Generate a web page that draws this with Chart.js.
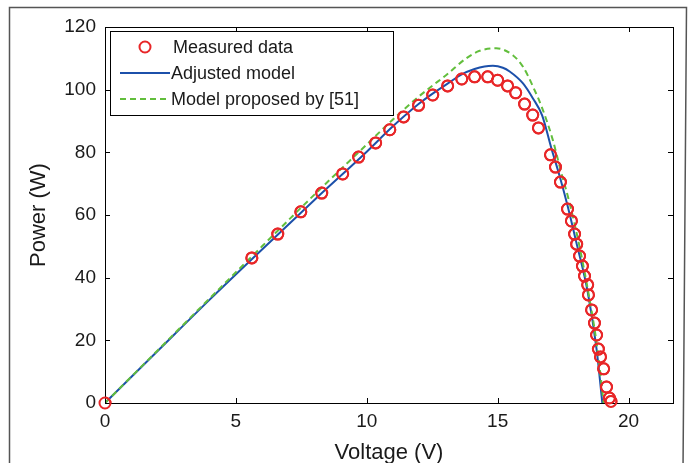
<!DOCTYPE html>
<html>
<head>
<meta charset="utf-8">
<script src="https://cdn.jsdelivr.net/npm/chart.js@4.4.1/dist/chart.umd.min.js"></script>
<style>
  html, body { margin: 0; padding: 0; background: #fff; }
  #wrap { width: 692px; height: 463px; }
</style>
</head>
<body>
<div id="wrap"><canvas id="c" width="692" height="463"></canvas></div>
<script>
// Measured PV points [voltage, power]
const measuredV = [0, 5.61, 6.6, 7.48, 8.28, 9.08, 9.69, 10.34, 10.88, 11.41, 11.98, 12.52, 13.09, 13.63, 14.12, 14.62, 15.0, 15.38, 15.69, 16.03, 16.34, 16.56, 17.02, 17.21, 17.4, 17.67, 17.82, 17.94, 18.02, 18.13, 18.24, 18.32, 18.44, 18.47, 18.59, 18.7, 18.78, 18.85, 18.93, 19.05, 19.16, 19.27, 19.33];
const measuredP = [0, 46.3, 53.9, 61, 67, 73.1, 78.5, 83, 87.2, 91.3, 95, 98.3, 101.2, 103.4, 104.1, 104.1, 103.0, 101.2, 99, 95.4, 91.9, 87.8, 79.2, 75.3, 70.5, 61.9, 58.1, 53.9, 50.7, 46.9, 43.7, 40.5, 37.7, 34.5, 29.7, 25.5, 21.7, 17.2, 14.7, 10.9, 5.1, 1.6, 0.5];

// Adjusted model
const adjustedV = [0, 2, 4, 6, 8, 10, 11, 11.98, 12.53, 13.1, 13.63, 14.12, 14.5, 14.82, 15.2, 15.46, 15.97, 16.35, 16.7, 17.05, 17.4, 17.67, 18, 18.44, 18.78, 19.0];
const adjustedP = [0, 16.5, 33, 49, 64.8, 80.2, 88.3, 95.4, 98.8, 102, 104.9, 106.6, 107.4, 107.6, 107, 105.8, 102, 97.2, 91.8, 81.4, 71.5, 63, 51.5, 35.5, 17.2, 0];

// Model proposed by [51]
const refV = [0, 2, 4, 6, 8, 10, 11, 11.9, 12.47, 13.04, 13.8, 14.31, 14.95, 15.58, 15.97, 16.35, 16.73, 17.11, 17.4, 17.75, 18.13, 18.45, 18.8, 19.05];
const refP = [0, 16.7, 33.4, 50, 66.5, 82.5, 90.5, 97.2, 101, 104.7, 110, 112.4, 113.2, 111, 107.3, 101, 93.5, 83.9, 74.5, 63.8, 49.9, 36, 18, 0];

const xTicks = [0, 5, 10, 15, 20];
const yTicks = [0, 20, 40, 60, 80, 100, 120];

const toPts = (xs, ys) => xs.map((x, i) => ({ x: x, y: ys[i] }));
const FONT = '"Liberation Sans", Arial, Helvetica, sans-serif';

// frame, inward ticks, box and legend drawn like the matlab figure
const matlabLook = {
  id: 'matlabLook',
  beforeDraw(chart) {
    const ctx = chart.ctx;
    ctx.save();
    ctx.strokeStyle = '#555';
    ctx.lineWidth = 1.5;
    ctx.beginPath();
    ctx.moveTo(9.5, 470);
    ctx.lineTo(9.5, 7.5);
    ctx.lineTo(686.5, 7.5);
    ctx.lineTo(683, 470);
    ctx.stroke();
    ctx.restore();
  },
  afterDatasetsDraw(chart) {
    const ctx = chart.ctx;
    const a = chart.chartArea;
    const xs = chart.scales.x, ys = chart.scales.y;
    ctx.save();
    ctx.strokeStyle = '#000';
    ctx.lineWidth = 1;
    ctx.strokeRect(a.left + 0.5, a.top + 0.5, a.right - a.left, a.bottom - a.top);
    ctx.beginPath();
    xTicks.forEach(v => {
      const px = Math.round(xs.getPixelForValue(v)) + 0.5;
      ctx.moveTo(px, a.bottom); ctx.lineTo(px, a.bottom - 5);
      ctx.moveTo(px, a.top); ctx.lineTo(px, a.top + 5);
    });
    yTicks.forEach(v => {
      const py = Math.round(ys.getPixelForValue(v)) + 0.5;
      ctx.moveTo(a.left, py); ctx.lineTo(a.left + 5, py);
      ctx.moveTo(a.right, py); ctx.lineTo(a.right - 5, py);
    });
    ctx.stroke();

    // redraw measured circles on top of the box (matlab does not clip them)
    const meta = chart.getDatasetMeta(0);
    const ds0 = chart.data.datasets[0];
    ctx.strokeStyle = ds0.borderColor;
    ctx.lineWidth = 2;
    meta.data.forEach(p => {
      ctx.beginPath();
      ctx.arc(p.x, p.y, 5.5, 0, Math.PI * 2);
      ctx.stroke();
    });

    // legend box
    const bx = 110.5, by = 31.5, bw = 283, bh = 84;
    ctx.fillStyle = '#fff';
    ctx.strokeStyle = '#000';
    ctx.lineWidth = 1;
    ctx.fillRect(bx, by, bw, bh);
    ctx.strokeRect(bx, by, bw, bh);
    ctx.font = '18px ' + FONT;
    ctx.textBaseline = 'middle';
    ctx.fillStyle = '#1a1a1a';
    const rows = [47, 73, 99];
    chart.data.datasets.forEach((ds, i) => {
      const y = rows[i];
      if (i === 0) {
        ctx.beginPath();
        ctx.strokeStyle = ds.borderColor;
        ctx.lineWidth = 2;
        ctx.arc(145, y, 5.5, 0, Math.PI * 2);
        ctx.stroke();
      } else {
        ctx.beginPath();
        ctx.strokeStyle = ds.borderColor;
        ctx.lineWidth = ds.borderWidth;
        ctx.setLineDash(ds.borderDash || []);
        ctx.moveTo(120, y); ctx.lineTo(170, y);
        ctx.stroke();
        ctx.setLineDash([]);
      }
      ctx.fillText(ds.label, i === 0 ? 173 : 171, y + 1);
    });
    ctx.restore();
  }
};

new Chart(document.getElementById('c'), {
  type: 'scatter',
  data: {
    datasets: [
      {
        label: 'Measured data',
        data: toPts(measuredV, measuredP),
        showLine: false,
        pointStyle: 'circle',
        pointRadius: 5.5,
        pointBorderWidth: 2,
        borderColor: 'rgb(232, 38, 40)',
        backgroundColor: 'rgba(0,0,0,0)',
        order: 0
      },
      {
        label: 'Adjusted model',
        data: toPts(adjustedV, adjustedP),
        showLine: true,
        borderColor: 'rgb(28, 80, 170)',
        borderWidth: 2,
        pointRadius: 0,
        cubicInterpolationMode: 'monotone',
        order: 2
      },
      {
        label: 'Model proposed by [51]',
        data: toPts(refV, refP),
        showLine: true,
        borderColor: 'rgb(98, 190, 60)',
        borderWidth: 2,
        borderDash: [6, 4],
        pointRadius: 0,
        cubicInterpolationMode: 'monotone',
        order: 1
      }
    ]
  },
  options: {
    responsive: false,
    animation: false,
    layout: { padding: { left: 0, top: 27, right: 19, bottom: 0 } },
    plugins: {
      legend: { display: false },
      tooltip: { enabled: false }
    },
    scales: {
      x: {
        type: 'linear',
        min: 0,
        max: 21.7,
        afterFit: s => { s.height = 60; },
        afterBuildTicks: s => { s.ticks = xTicks.map(v => ({ value: v })); },
        grid: { display: false, drawTicks: false },
        border: { display: false },
        ticks: { padding: 7, color: '#1a1a1a', font: { family: FONT, size: 19 } },
        title: {
          display: true,
          text: 'Voltage (V)',
          color: '#1a1a1a',
          font: { family: FONT, size: 22 },
          padding: { top: 0, bottom: -3 }
        }
      },
      y: {
        type: 'linear',
        min: 0,
        max: 120,
        afterFit: s => { s.width = 105; },
        afterBuildTicks: s => { s.ticks = yTicks.map(v => ({ value: v })); },
        grid: { display: false, drawTicks: false },
        border: { display: false },
        ticks: { padding: 9, color: '#1a1a1a', font: { family: FONT, size: 19 } },
        title: {
          display: true,
          text: 'Power (W)',
          color: '#1a1a1a',
          font: { family: FONT, size: 22 },
          padding: { top: 26, bottom: 0 }
        }
      }
    }
  },
  plugins: [matlabLook]
});
</script>
</body>
</html>
